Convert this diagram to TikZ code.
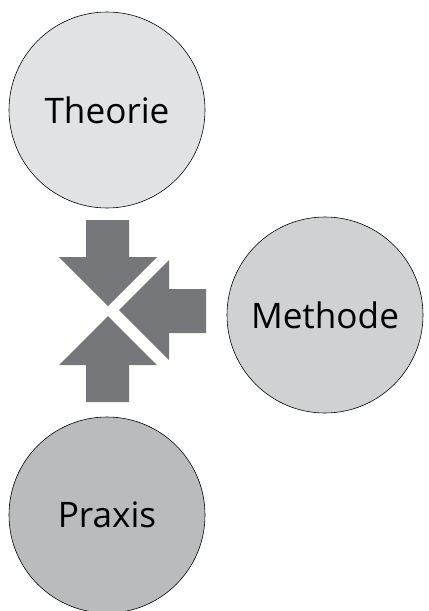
\documentclass[tikz,border=0pt]{standalone}
\usepackage{fontspec}
\setmainfont{Open Sans}
\definecolor{pfeil}{RGB}{118,119,123}
\definecolor{theoriegrau}{RGB}{225,226,228}
\definecolor{methodegrau}{RGB}{208,209,211}
\definecolor{praxisgrau}{RGB}{186,187,189}
\tikzset{kreis/.style={circle, draw=black, line width=0.5pt, minimum size=58.8mm, inner sep=0pt, font=\fontsize{30}{36}\selectfont}}

\begin{document}
\begin{tikzpicture}[x=0.3mm,y=-0.3mm]
\useasboundingbox (0,0) rectangle (428,611);
\node[kreis, fill=theoriegrau] (theorie) at (107,110) {Theorie};
\node[kreis, fill=methodegrau] (methode) at (325,315) {Methode};
\node[kreis, fill=praxisgrau] (praxis) at (107,515) {Praxis};

\fill[pfeil] (86,220) -- (129,220) -- (129,257) -- (157,257) -- (108,306) -- (59,257) -- (86,257) -- cycle;
\fill[pfeil] (86,402) -- (129,402) -- (129,365) -- (157,365) -- (108,316) -- (59,365) -- (86,365) -- cycle;
\fill[pfeil] (206,289) -- (206,333) -- (169,333) -- (169,360) -- (119,310) -- (169,260) -- (169,289) -- cycle;
\end{tikzpicture}
\end{document}
